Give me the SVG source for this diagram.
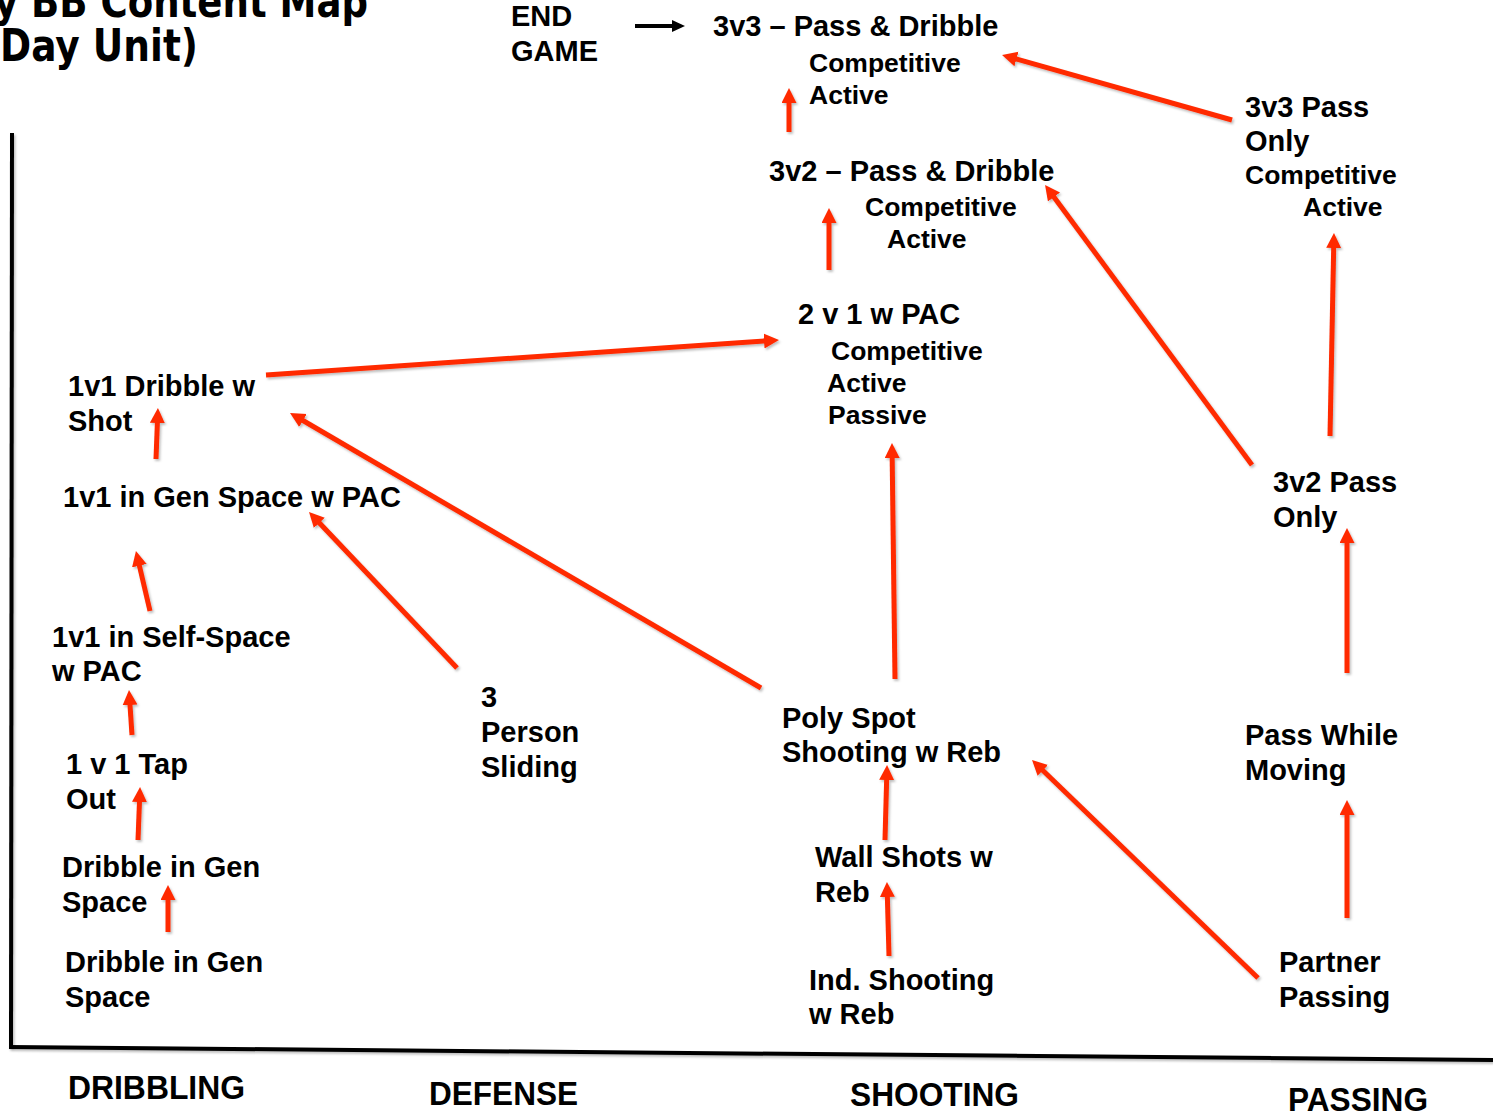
<svg xmlns="http://www.w3.org/2000/svg" width="1493" height="1116" viewBox="0 0 1493 1116">
  <style>
    .t { font-family: "Liberation Sans", Arial, sans-serif; font-weight: bold; font-size: 29px; fill: #000; }
    .s { font-family: "Liberation Sans", Arial, sans-serif; font-weight: bold; font-size: 26.5px; fill: #000; }
    .title { font-family: "Comic Sans MS", "DejaVu Sans", sans-serif; font-weight: bold; font-size: 44px; fill: #000; }
    .axis-label { font-family: "Liberation Sans Narrow", "Liberation Sans", Arial, sans-serif; font-weight: bold; font-size: 34px; fill: #000; }
    .red { stroke: #ff2a00; stroke-width: 5; fill: none; marker-end: url(#redHead); filter: url(#shade); }
    .axis { stroke: #000; stroke-width: 4; fill: none; filter: url(#shade); }
  </style>
  <defs>
    <marker id="redHead" markerUnits="userSpaceOnUse" markerWidth="16" markerHeight="16" refX="6" refY="7.5" orient="auto">
      <path d="M0,0 L15,7.5 L0,15 z" fill="#ff2a00"/>
    </marker>
    <marker id="blackHead" markerUnits="userSpaceOnUse" markerWidth="14" markerHeight="14" refX="5" refY="6" orient="auto">
      <path d="M0,0 L13,6 L0,12 z" fill="#000"/>
    </marker>
    <!-- soft shadow under strokes; region in user space so thin vertical lines are not clipped -->
    <filter id="shade" filterUnits="userSpaceOnUse" x="0" y="0" width="1493" height="1116">
      <feDropShadow dx="1.5" dy="2" stdDeviation="1.2" flood-color="#000" flood-opacity="0.25"/>
    </filter>
  </defs>

  <rect width="1493" height="1116" fill="#fff"/>

  <!-- title, partly off the top-left edge -->
  <g id="title">
    <text class="title" x="-6" y="17" textLength="374" lengthAdjust="spacingAndGlyphs">y BB Content Map</text>
    <text class="title" x="0" y="61" textLength="198" lengthAdjust="spacingAndGlyphs">Day Unit)</text>
  </g>

  <!-- axes -->
  <g id="axes">
    <line class="axis" x1="12" y1="133" x2="11" y2="1047"/>
    <line class="axis" x1="9" y1="1047" x2="1493" y2="1060"/>
    <text class="axis-label" x="68" y="1099" textLength="177" lengthAdjust="spacingAndGlyphs">DRIBBLING</text>
    <text class="axis-label" x="429" y="1105" textLength="149" lengthAdjust="spacingAndGlyphs">DEFENSE</text>
    <text class="axis-label" x="850" y="1106" textLength="169" lengthAdjust="spacingAndGlyphs">SHOOTING</text>
    <text class="axis-label" x="1288" y="1111" textLength="140" lengthAdjust="spacingAndGlyphs">PASSING</text>
  </g>

  <g id="end-game">
    <text class="t" x="511" y="26">END</text>
    <text class="t" x="511" y="61">GAME</text>
  </g>

  <g id="n-3v3-pass-dribble">
    <text class="t" x="713" y="36">3v3 – Pass &amp; Dribble</text>
    <text class="s" x="809" y="72">Competitive</text>
    <text class="s" x="809" y="104">Active</text>
  </g>

  <g id="n-3v2-pass-dribble">
    <text class="t" x="769" y="181">3v2 – Pass &amp; Dribble</text>
    <text class="s" x="865" y="216">Competitive</text>
    <text class="s" x="887" y="248">Active</text>
  </g>

  <g id="n-3v3-pass-only">
    <text class="t" x="1245" y="117">3v3 Pass</text>
    <text class="t" x="1245" y="151">Only</text>
    <text class="s" x="1245" y="184">Competitive</text>
    <text class="s" x="1303" y="216">Active</text>
  </g>

  <g id="n-2v1-pac">
    <text class="t" x="798" y="324">2 v 1 w PAC</text>
    <text class="s" x="831" y="360">Competitive</text>
    <text class="s" x="827" y="392">Active</text>
    <text class="s" x="828" y="424">Passive</text>
  </g>

  <g id="n-1v1-dribble-shot">
    <text class="t" x="68" y="396">1v1 Dribble w</text>
    <text class="t" x="68" y="431">Shot</text>
  </g>

  <g id="n-1v1-gen-space">
    <text class="t" x="63" y="507">1v1 in Gen Space w PAC</text>
  </g>

  <g id="n-1v1-self-space">
    <text class="t" x="52" y="647">1v1 in Self-Space</text>
    <text class="t" x="52" y="681">w PAC</text>
  </g>

  <g id="n-1v1-tap-out">
    <text class="t" x="66" y="774">1 v 1 Tap</text>
    <text class="t" x="66" y="809">Out</text>
  </g>

  <g id="n-dribble-gen-2">
    <text class="t" x="62" y="877">Dribble in Gen</text>
    <text class="t" x="62" y="912">Space</text>
  </g>

  <g id="n-dribble-gen-1">
    <text class="t" x="65" y="972">Dribble in Gen</text>
    <text class="t" x="65" y="1007">Space</text>
  </g>

  <g id="n-3-person-sliding">
    <text class="t" x="481" y="707">3</text>
    <text class="t" x="481" y="742">Person</text>
    <text class="t" x="481" y="777">Sliding</text>
  </g>

  <g id="n-poly-spot">
    <text class="t" x="782" y="728">Poly Spot</text>
    <text class="t" x="782" y="762">Shooting w Reb</text>
  </g>

  <g id="n-wall-shots">
    <text class="t" x="815" y="867">Wall Shots w</text>
    <text class="t" x="815" y="902">Reb</text>
  </g>

  <g id="n-ind-shooting">
    <text class="t" x="809" y="990">Ind. Shooting</text>
    <text class="t" x="809" y="1024">w Reb</text>
  </g>

  <g id="n-3v2-pass-only">
    <text class="t" x="1273" y="492">3v2 Pass</text>
    <text class="t" x="1273" y="527">Only</text>
  </g>

  <g id="n-pass-while-moving">
    <text class="t" x="1245" y="745">Pass While</text>
    <text class="t" x="1245" y="780">Moving</text>
  </g>

  <g id="n-partner-passing">
    <text class="t" x="1279" y="972">Partner</text>
    <text class="t" x="1279" y="1007">Passing</text>
  </g>

  <!-- connectors -->
  <g id="connectors">
    <line x1="635" y1="26" x2="677" y2="26" stroke="#000" stroke-width="4" marker-end="url(#blackHead)"/>
    <line class="red" x1="1232" y1="120" x2="1010.7" y2="57.4"/>
    <line class="red" x1="789" y1="132" x2="789" y2="97"/>
    <line class="red" x1="829" y1="270" x2="829" y2="217"/>
    <line class="red" x1="1252" y1="465" x2="1050.4" y2="192.2"/>
    <line class="red" x1="1330" y1="436" x2="1333.8" y2="242"/>
    <line class="red" x1="266" y1="375" x2="770" y2="340.6"/>
    <line class="red" x1="156" y1="459" x2="157.6" y2="417"/>
    <line class="red" x1="761" y1="688" x2="297.8" y2="417.5"/>
    <line class="red" x1="457" y1="668" x2="315.2" y2="518.5"/>
    <line class="red" x1="150" y1="611" x2="138" y2="559.8"/>
    <line class="red" x1="132" y1="735" x2="129.6" y2="699"/>
    <line class="red" x1="138" y1="840" x2="139.7" y2="796"/>
    <line class="red" x1="168" y1="932" x2="168" y2="894"/>
    <line class="red" x1="895" y1="679" x2="892.1" y2="452"/>
    <line class="red" x1="885" y1="840" x2="886.8" y2="774"/>
    <line class="red" x1="889" y1="956" x2="887.2" y2="891"/>
    <line class="red" x1="1258" y1="978" x2="1038.5" y2="766.2"/>
    <line class="red" x1="1347" y1="918" x2="1347" y2="809"/>
    <line class="red" x1="1347" y1="673" x2="1347" y2="537"/>
  </g>
</svg>
